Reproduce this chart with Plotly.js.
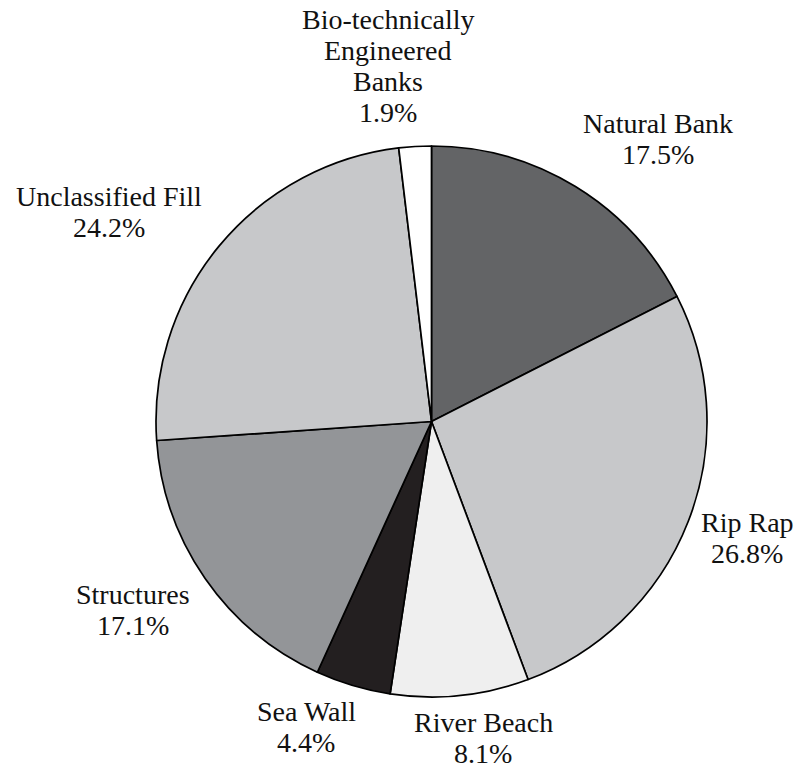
<!DOCTYPE html>
<html>
<head>
<meta charset="utf-8">
<script src="https://cdn.plot.ly/plotly-3.0.1.min.js"></script>
<style>
  html, body { margin: 0; padding: 0; background: #ffffff; }
  #chart { width: 796px; height: 769px; }
</style>
</head>
<body>
<div id="chart"></div>
<script>
// Shoreline types, clockwise from 12 o'clock
var categories = [
  'Natural Bank',
  'Rip Rap',
  'River Beach',
  'Sea Wall',
  'Structures',
  'Unclassified Fill',
  'Bio-technically<br>Engineered<br>Banks'
];
var shares = [17.5, 26.8, 8.1, 4.4, 17.1, 24.2, 1.9];
var sliceColors = ['#636466', '#c7c8ca', '#efefef', '#231f20', '#939598', '#c7c8ca', '#ffffff'];

// Label placement: centre x and first-line baseline, in page pixels
var labelX = [658, 747, 483, 306, 133, 108.5, 388];
var labelBaseline = [133, 532, 732, 721, 604, 206, 29];

var W = 796, H = 769;
var FONT_SIZE = 28;
var LINE_GAP = 31;

var annotations = [];
categories.forEach(function (name, i) {
  var lines = name.split('<br>').concat([shares[i].toFixed(1) + '%']);
  lines.forEach(function (line, k) {
    var centreY = labelBaseline[i] + k * LINE_GAP - 0.3375 * FONT_SIZE;
    annotations.push({
      xref: 'paper', yref: 'paper',
      x: labelX[i] / W,
      y: 1 - centreY / H,
      xanchor: 'center', yanchor: 'middle',
      text: line,
      showarrow: false,
      font: { family: 'Liberation Serif', size: FONT_SIZE, color: '#111111' }
    });
  });
});

var trace = {
  type: 'pie',
  labels: categories,
  values: shares,
  sort: false,
  direction: 'clockwise',
  rotation: 0,
  textinfo: 'none',
  hoverinfo: 'none',
  marker: { colors: sliceColors, line: { color: '#000000', width: 1.7 } },
  domain: { x: [156 / W, 707 / W], y: [1 - 697 / H, 1 - 146 / H] }
};

var layout = {
  width: W,
  height: H,
  margin: { l: 0, r: 0, t: 0, b: 0 },
  paper_bgcolor: '#ffffff',
  plot_bgcolor: '#ffffff',
  showlegend: false,
  annotations: annotations
};

Plotly.newPlot('chart', [trace], layout, { staticPlot: true });
</script>
</body>
</html>
